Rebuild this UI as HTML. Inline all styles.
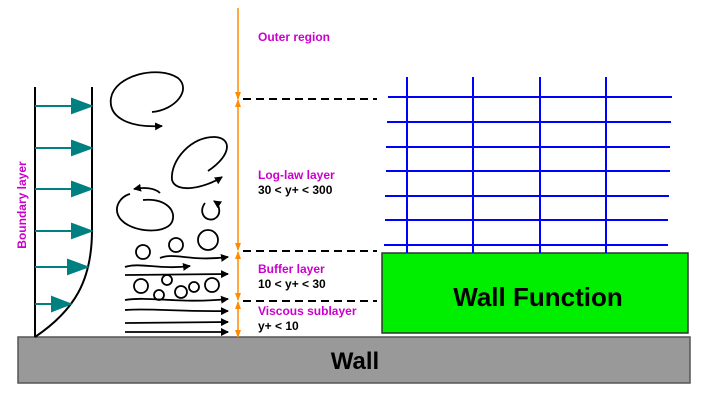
<!DOCTYPE html>
<html><head><meta charset="utf-8"><style>
html,body{margin:0;padding:0;background:#fff;}
svg{display:block;font-family:"Liberation Sans",Arial,sans-serif;}
</style></head><body>
<svg width="711" height="405" viewBox="0 0 711 405">
<defs>
<marker id="ah" markerWidth="8" markerHeight="8" refX="7" refY="4" orient="auto" markerUnits="userSpaceOnUse"><path d="M0,0 L8,4 L0,8 Z" fill="#000"/></marker>
<marker id="oh" markerWidth="8" markerHeight="8" refX="7" refY="4" orient="auto" markerUnits="userSpaceOnUse"><path d="M0,1 L8,4 L0,7 Z" fill="#ff8c00"/></marker>
</defs>
<rect x="18" y="337" width="672" height="46" fill="#999" stroke="#555" stroke-width="1.5"/>
<text x="355" y="369" font-size="24" font-weight="bold" text-anchor="middle" fill="#000">Wall</text>
<rect x="382" y="253" width="306" height="80" fill="#00ee00" stroke="#333" stroke-width="1.5"/>
<text x="538" y="306" font-size="26" font-weight="bold" text-anchor="middle" fill="#000">Wall Function</text>
<g stroke="#0000ff" stroke-width="2">
<line x1="407" y1="77" x2="407" y2="253"/><line x1="473" y1="77" x2="473" y2="253"/>
<line x1="540" y1="77" x2="540" y2="253"/><line x1="606" y1="77" x2="606" y2="253"/>
<line x1="388" y1="97" x2="672" y2="97"/><line x1="387" y1="122" x2="671" y2="122"/>
<line x1="386" y1="147" x2="670" y2="147"/><line x1="386" y1="171" x2="670" y2="171"/>
<line x1="385" y1="196" x2="669" y2="196"/><line x1="385" y1="220" x2="668" y2="220"/>
<line x1="384" y1="245" x2="668" y2="245"/>
</g>
<g stroke="#000" stroke-width="2" stroke-dasharray="8,5">
<line x1="243" y1="99" x2="377" y2="99"/><line x1="243" y1="251" x2="377" y2="251"/><line x1="243" y1="301" x2="377" y2="301"/>
</g>
<g stroke="#ff8c00" stroke-width="1.5">
<line x1="238" y1="8" x2="238" y2="99" marker-end="url(#oh)"/>
<line x1="238" y1="175" x2="238" y2="100" marker-end="url(#oh)"/>
<line x1="238" y1="175" x2="238" y2="250" marker-end="url(#oh)"/>
<line x1="238" y1="275" x2="238" y2="252" marker-end="url(#oh)"/>
<line x1="238" y1="275" x2="238" y2="300" marker-end="url(#oh)"/>
<line x1="238" y1="318" x2="238" y2="302" marker-end="url(#oh)"/>
<line x1="238" y1="318" x2="238" y2="337" marker-end="url(#oh)"/>
</g>
<g font-size="12" font-weight="bold">
<text x="258" y="41" fill="#cc00cc">Outer region</text>
<text x="258" y="179" fill="#cc00cc">Log-law layer</text>
<text x="258" y="194" fill="#000">30 &lt; y+ &lt; 300</text>
<text x="258" y="273" fill="#cc00cc">Buffer layer</text>
<text x="258" y="288" fill="#000">10 &lt; y+ &lt; 30</text>
<text x="258" y="315" fill="#cc00cc">Viscous sublayer</text>
<text x="258" y="330" fill="#000">y+ &lt; 10</text>
<text transform="translate(26,205) rotate(-90)" text-anchor="middle" fill="#cc00cc">Boundary layer</text>
</g>
<g fill="none" stroke="#000" stroke-width="2">
<line x1="35" y1="87" x2="35" y2="337"/>
<path d="M92,87 L92,230 C92,280 75,310 35,337"/>
</g>
<g stroke="#008080" stroke-width="2" fill="#008080">
<line x1="35" y1="106" x2="75" y2="106"/><path d="M72,99 L91,106 L72,113Z"/>
<line x1="35" y1="148" x2="75" y2="148"/><path d="M72,141 L91,148 L72,155Z"/>
<line x1="35" y1="189" x2="75" y2="189"/><path d="M72,182 L91,189 L72,196Z"/>
<line x1="35" y1="231" x2="75" y2="231"/><path d="M72,224 L91,231 L72,238Z"/>
<line x1="35" y1="267" x2="70" y2="267"/><path d="M68,260 L87,267 L68,274Z"/>
<line x1="35" y1="304" x2="54" y2="304"/><path d="M52,297 L70,304 L52,311Z"/>
</g>
<g fill="none" stroke="#000" stroke-width="1.8">
<path d="M152,112 C175,110 192,90 178,78 C158,65 115,75 111,98 C108,118 130,128 162,126" marker-end="url(#ah)"/>
<path d="M208,171 C232,155 232,138 215,137 C192,136 170,160 172,180 C176,194 205,188 222,177" marker-end="url(#ah)"/>
<path d="M143,200 C165,198 177,210 172,222 C165,236 125,232 118,215 C114,205 122,196 130,194" />
<path d="M160,193 C155,188 145,187 134,189" marker-end="url(#ah)"/>
<path d="M205,203 C198,212 205,222 214,219 C222,215 220,205 214,201" marker-end="url(#ah)"/>
<circle cx="143" cy="252" r="7"/><circle cx="176" cy="245" r="7"/><circle cx="208" cy="240" r="10"/>
<circle cx="141" cy="286" r="7"/><circle cx="167" cy="280" r="5"/><circle cx="181" cy="292" r="6"/>
<circle cx="194" cy="287" r="5"/><circle cx="212" cy="285" r="7"/><circle cx="159" cy="295" r="5"/>
</g>
<g fill="none" stroke="#000" stroke-width="1.8">
<path d="M160,258 C175,252 190,262 228,257" marker-end="url(#ah)"/>
<path d="M125,267 C140,262 160,270 190,266" marker-end="url(#ah)"/>
<path d="M125,275 L228,274" marker-end="url(#ah)"/>
<path d="M125,300 C150,296 180,304 228,299" marker-end="url(#ah)"/>
<path d="M125,310 C150,308 180,312 228,311" marker-end="url(#ah)"/>
<path d="M125,323 L228,322" marker-end="url(#ah)"/>
<path d="M125,332 L228,332" marker-end="url(#ah)"/>
</g>
</svg>
</body></html>
